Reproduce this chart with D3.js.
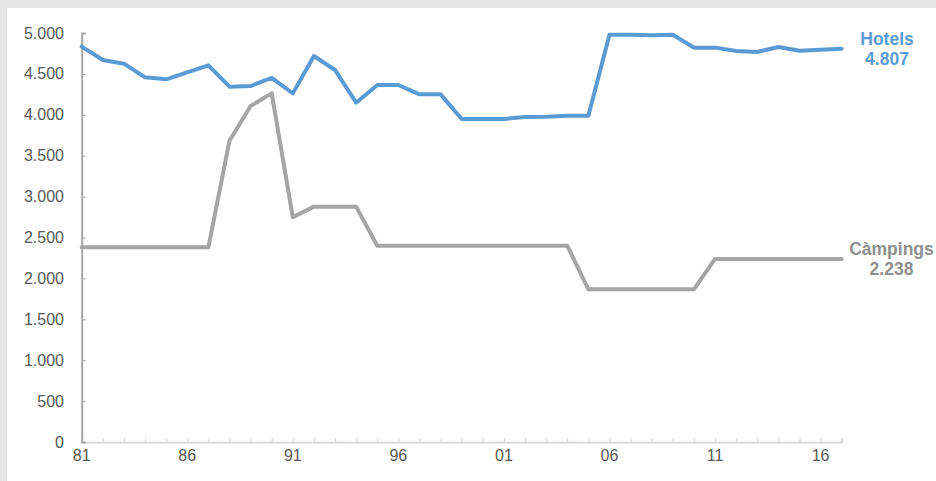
<!DOCTYPE html>
<html>
<head>
<meta charset="utf-8">
<script src="https://cdn.jsdelivr.net/npm/d3@7"></script>
<style>
  html, body { margin: 0; padding: 0; background: #e6e6e6; }
  svg { display: block; }
  text { font-family: "Liberation Sans", Arial, sans-serif; }
</style>
</head>
<body>
<svg id="chart" width="936" height="481"></svg>
<script>
const years = d3.range(1981, 2018);
const hotels = [4833, 4670, 4625, 4458, 4434, 4519, 4605, 4344, 4352, 4450,
                4262, 4719, 4548, 4148, 4364, 4364, 4250, 4250, 3949, 3949,
                3949, 3973, 3977, 3989, 3989, 4979, 4979, 4972, 4979, 4821,
                4821, 4780, 4768, 4829, 4784, 4796, 4807];
const campings = [2380, 2380, 2380, 2380, 2380, 2380, 2380, 3683, 4108, 4262,
                  2747, 2877, 2877, 2877, 2400, 2400, 2400, 2400, 2400, 2400,
                  2400, 2400, 2400, 2400, 1867, 1867, 1867, 1867, 1867, 1867,
                  2238, 2238, 2238, 2238, 2238, 2238, 2238];
const yTicks = [0, 500, 1000, 1500, 2000, 2500, 3000, 3500, 4000, 4500, 5000];
const xLabelYears = [1981, 1986, 1991, 1996, 2001, 2006, 2011, 2016];
const seriesNames = ["Hotels", "Càmpings"];
const lastLabels = ["4.807", "2.238"];

const svg = d3.select("#chart");
svg.append("rect").attr("x", 7).attr("y", 8).attr("width", 929).attr("height", 473).attr("fill", "#ffffff");

const x = d3.scaleLinear().domain([1981, 2017]).range([81.7, 841.7]);
const y = d3.scaleLinear().domain([0, 5000]).range([442, 33]);
const fmt = v => d3.format(",")(v).replace(/,/g, ".");

// X axis
const xAxis = d3.axisBottom(x).tickValues(years).tickSize(-4).tickFormat("");
const gx = svg.append("g").attr("transform", "translate(0,442)").call(xAxis);
gx.select(".domain").attr("stroke", "#d9d9d9").attr("stroke-width", 2);
gx.selectAll(".tick line").attr("stroke", "#d9d9d9").attr("stroke-width", 1);
svg.append("g").selectAll("text").data(xLabelYears).join("text")
  .attr("x", d => x(d)).attr("y", 460.5)
  .attr("text-anchor", "middle").attr("font-size", 16).attr("fill", "#595959")
  .text(d => String(d % 100).padStart(2, "0"));

// Y axis
const yAxis = d3.axisLeft(y).tickValues(yTicks).tickSize(-4).tickFormat("");
const gy = svg.append("g").attr("transform", "translate(81.7,0)").call(yAxis);
gy.select(".domain").attr("stroke", "#a6a6a6").attr("stroke-width", 2);
gy.selectAll(".tick line").attr("stroke", "#a6a6a6").attr("stroke-width", 1);
svg.append("g").selectAll("text").data(yTicks).join("text")
  .attr("x", 64).attr("y", d => y(d) + 5.5)
  .attr("text-anchor", "end").attr("font-size", 16).attr("fill", "#595959")
  .text(d => fmt(d));

// Lines
const line = d3.line().x((d, i) => x(years[i])).y(d => y(d));
const colors = ["#5b9bd5", "#a5a5a5"];
const textColors = ["#5b9bd5", "#8f8f8f"];
[hotels, campings].forEach((s, k) => {
  svg.append("path").datum(s).attr("d", line)
    .attr("fill", "none").attr("stroke", colors[k]).attr("stroke-width", 4)
    .attr("stroke-linejoin", "round").attr("stroke-linecap", "round");
});

// End labels
const labelPos = [{x: 887, y: 45.3}, {x: 891.5, y: 255}];
[hotels, campings].forEach((s, k) => {
  const t = svg.append("text").attr("text-anchor", "middle")
    .attr("font-size", 17.5).attr("font-weight", "bold").attr("fill", textColors[k]);
  t.append("tspan").attr("x", labelPos[k].x).attr("y", labelPos[k].y).text(seriesNames[k]);
  t.append("tspan").attr("x", labelPos[k].x).attr("dy", 19.5).text(lastLabels[k]);
});
</script>
</body>
</html>
